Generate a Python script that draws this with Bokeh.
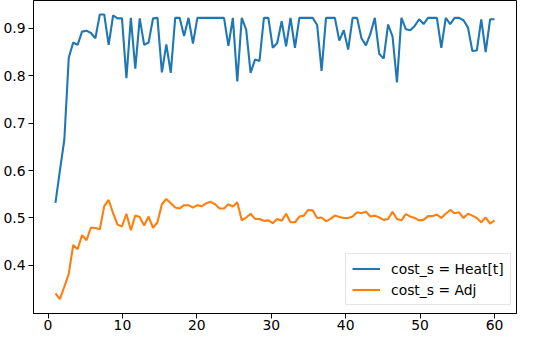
import numpy as np
from bokeh.plotting import figure
from bokeh.models import Range1d, FixedTicker, Legend, LegendItem
from bokeh.embed import file_html
from bokeh.resources import INLINE

# x grid: 100 evenly spaced steps from 1 to 60
x = np.linspace(1, 60, 100)

heat = [0.532, 0.600, 0.665, 0.838, 0.870, 0.865, 0.893, 0.895, 0.890, 0.879,
        0.929, 0.929, 0.865, 0.927, 0.921, 0.921, 0.795, 0.922, 0.815, 0.921,
        0.865, 0.870, 0.921, 0.922, 0.807, 0.866, 0.806, 0.922, 0.922, 0.884,
        0.922, 0.868, 0.922, 0.922, 0.922, 0.922, 0.922, 0.922, 0.922, 0.863,
        0.922, 0.788, 0.922, 0.897, 0.806, 0.834, 0.831, 0.922, 0.922, 0.859,
        0.869, 0.915, 0.862, 0.922, 0.859, 0.922, 0.922, 0.922, 0.922, 0.907,
        0.810, 0.922, 0.922, 0.922, 0.874, 0.896, 0.855, 0.922, 0.922, 0.879,
        0.864, 0.888, 0.922, 0.846, 0.836, 0.908, 0.883, 0.786, 0.922, 0.898,
        0.896, 0.905, 0.919, 0.909, 0.922, 0.922, 0.922, 0.859, 0.922, 0.909,
        0.922, 0.922, 0.917, 0.902, 0.852, 0.853, 0.919, 0.850, 0.919, 0.919]

adj = [0.341, 0.329, 0.355, 0.382, 0.443, 0.434, 0.464, 0.453, 0.480, 0.479,
       0.476, 0.525, 0.538, 0.510, 0.486, 0.482, 0.509, 0.474, 0.505, 0.502,
       0.484, 0.503, 0.479, 0.491, 0.529, 0.540, 0.531, 0.522, 0.520, 0.527,
       0.527, 0.522, 0.527, 0.525, 0.531, 0.534, 0.529, 0.520, 0.520, 0.529,
       0.524, 0.533, 0.495, 0.501, 0.509, 0.498, 0.498, 0.494, 0.495, 0.489,
       0.498, 0.494, 0.509, 0.491, 0.491, 0.503, 0.505, 0.517, 0.516, 0.500,
       0.501, 0.493, 0.498, 0.505, 0.502, 0.500, 0.500, 0.503, 0.512, 0.510,
       0.513, 0.503, 0.505, 0.501, 0.496, 0.498, 0.513, 0.498, 0.495, 0.508,
       0.503, 0.500, 0.495, 0.496, 0.504, 0.504, 0.507, 0.500, 0.509, 0.517,
       0.510, 0.512, 0.500, 0.509, 0.505, 0.500, 0.491, 0.501, 0.488, 0.495]

labels = ["cost_s = Heat[t]", "cost_s = Adj"]
colors = ["#1f77b4", "#ff7f0e"]
x_ticks = [0, 10, 20, 30, 40, 50, 60]
y_ticks = [0.4, 0.5, 0.6, 0.7, 0.8, 0.9]

FONT = "DejaVu Sans"
FS = "13.9px"

p = figure(width=518, height=332, output_backend="svg", toolbar_location=None,
           x_range=Range1d(-1.95, 62.95), y_range=Range1d(0.2986, 0.9586),
           min_border_left=33, min_border_right=2, min_border_top=0,
           min_border_bottom=0)

r1 = p.line(x, heat, line_color=colors[0], line_width=2.1)
r2 = p.line(x, adj, line_color=colors[1], line_width=2.1)

p.xgrid.visible = False
p.ygrid.visible = False
p.outline_line_color = "black"
p.outline_line_width = 1
p.outline_line_alpha = 1
p.background_fill_color = "white"
p.border_fill_color = "white"

for ax in (p.xaxis[0], p.yaxis[0]):
    ax.major_tick_in = 0
    ax.major_tick_out = 5
    ax.minor_tick_in = 0
    ax.minor_tick_out = 0
    ax.axis_line_color = "black"
    ax.major_tick_line_color = "black"
    ax.major_label_text_font = FONT
    ax.major_label_text_font_size = FS
    ax.major_label_text_color = "#000000"
    ax.axis_label = None
    ax.axis_label_standoff = 0
p.xaxis[0].major_label_standoff = 1
p.yaxis[0].major_label_standoff = 3
p.xaxis[0].ticker = FixedTicker(ticks=x_ticks)
p.yaxis[0].ticker = FixedTicker(ticks=y_ticks)

legend = Legend(items=[LegendItem(label=labels[0], renderers=[r1]),
                       LegendItem(label=labels[1], renderers=[r2])],
                location=(312, 8))
legend.label_text_font = FONT
legend.label_text_font_size = FS
legend.label_text_color = "black"
legend.glyph_width = 28
legend.glyph_height = 17
legend.label_height = 17
legend.label_standoff = 11
legend.spacing = 4
legend.padding = 6
legend.margin = 0
legend.border_line_color = "#cccccc"
legend.border_line_width = 1
legend.background_fill_alpha = 0.8
p.add_layout(legend)

open("out.html", "w").write(file_html(p, INLINE))
